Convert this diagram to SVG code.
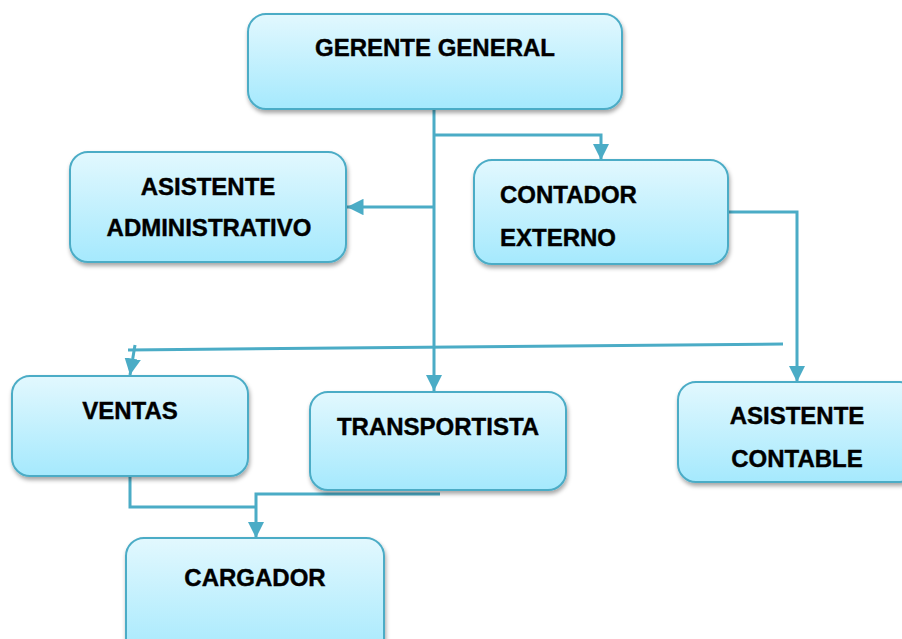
<svg xmlns="http://www.w3.org/2000/svg" width="902" height="639" viewBox="0 0 902 639">
<defs>
<linearGradient id="g" x1="0" y1="0" x2="0" y2="1">
<stop offset="0" stop-color="#E2F8FE"/>
<stop offset="1" stop-color="#A5E9FD"/>
</linearGradient>
<filter id="sh" x="-10%" y="-10%" width="125%" height="135%">
<feDropShadow dx="1" dy="3" stdDeviation="2" flood-color="#000" flood-opacity="0.35"/>
</filter>
<marker id="ah" viewBox="0 0 10 10" refX="10" refY="5" markerWidth="5.5" markerHeight="5.5" markerUnits="strokeWidth" orient="auto">
<path d="M0,0 L10,5 L0,10 z" fill="#4BACC6"/>
</marker>
</defs>
<style>
.box{fill:url(#g);stroke:#4BACC6;stroke-width:2;filter:url(#sh)}
.t{font-family:"Liberation Sans",Arial,sans-serif;font-weight:bold;font-size:24px;fill:#000;stroke:#000;stroke-width:0.4}
.c{text-anchor:middle}
.ln{fill:none;stroke:#4BACC6;stroke-width:3}
</style>
<g id="connectors">
<path class="ln" d="M434,109 V391" marker-end="url(#ah)"/>
<path class="ln" d="M434,135 H601 V160" marker-end="url(#ah)"/>
<path class="ln" d="M434,207 H347" marker-end="url(#ah)"/>
<path class="ln" d="M728,212 H797 V382" marker-end="url(#ah)"/>
<path class="ln" d="M128,350 L783,344"/>
<path class="ln" d="M135,345 L130,375" marker-end="url(#ah)"/>
<path class="ln" d="M130,476 V507 H257"/>
<path class="ln" d="M440,494 H256 V538" marker-end="url(#ah)"/>
</g>
<g id="gerente">
<rect class="box" x="248" y="14" width="374" height="95" rx="18"/>
<text class="t c" x="435" y="56">GERENTE GENERAL</text>
</g>
<g id="asistente-admin">
<rect class="box" x="70" y="152" width="276" height="110" rx="18"/>
<text class="t c" x="208" y="195">ASISTENTE</text>
<text class="t c" x="209" y="236">ADMINISTRATIVO</text>
</g>
<g id="contador">
<rect class="box" x="474" y="160" width="254" height="104" rx="18"/>
<text class="t" x="500" y="203">CONTADOR</text>
<text class="t" x="500" y="246">EXTERNO</text>
</g>
<g id="ventas">
<rect class="box" x="12" y="376" width="236" height="100" rx="18"/>
<text class="t c" x="130" y="419">VENTAS</text>
</g>
<g id="transportista">
<rect class="box" x="310" y="392" width="256" height="98" rx="18"/>
<text class="t c" x="438" y="435">TRANSPORTISTA</text>
</g>
<g id="asistente-contable">
<rect class="box" x="678" y="382" width="240" height="100" rx="18"/>
<text class="t c" x="797" y="424">ASISTENTE</text>
<text class="t c" x="797" y="467">CONTABLE</text>
</g>
<g id="cargador">
<rect class="box" x="126" y="538" width="258" height="120" rx="18"/>
<text class="t c" x="255" y="586">CARGADOR</text>
</g>
</svg>
